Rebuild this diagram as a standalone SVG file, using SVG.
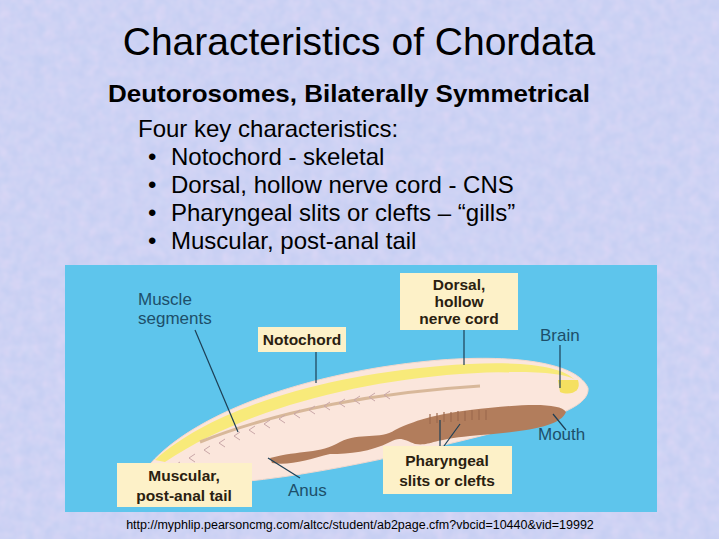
<svg xmlns="http://www.w3.org/2000/svg" width="719" height="539" viewBox="0 0 719 539">
<defs>
<filter id="mot" x="0" y="0" width="100%" height="100%"><feTurbulence type="fractalNoise" baseFrequency="0.09" numOctaves="2" seed="3"/><feColorMatrix type="matrix" values="0.3 0 0 0 0.7  0 0 0 0 0.76  0 0 0 0 0.95  0 0 0 0.5 0"/></filter>
<style>
.lbl{fill:#fdf1c8}
.bt{font-family:"Liberation Sans",Arial,sans-serif;font-weight:bold;font-size:15.5px;fill:#2a2010;text-anchor:middle}
.nt{font-family:"Liberation Sans",Arial,sans-serif;font-size:17px;fill:#1d4f6a}
.ln{stroke:#1d3f55;stroke-width:1.2;fill:none}
.body{font-family:"Liberation Sans",Arial,sans-serif;font-size:24px;fill:#000}
</style>
</defs>
<rect width="719" height="539" fill="#c3cdf2"/>
<rect width="719" height="539" fill="#fff" filter="url(#mot)"/>
<text x="359" y="55" font-family="Liberation Sans,Arial,sans-serif" font-size="39" text-anchor="middle">Characteristics of Chordata</text>
<text x="108" y="102" font-family="Liberation Sans,Arial,sans-serif" font-size="24" font-weight="bold" textLength="482" lengthAdjust="spacingAndGlyphs">Deutorosomes, Bilaterally Symmetrical</text>
<text x="138" y="137" class="body">Four key characteristics:</text>
<text class="body"><tspan x="148" y="165">•</tspan><tspan x="171">Notochord - skeletal</tspan><tspan x="148" y="193">•</tspan><tspan x="171">Dorsal, hollow nerve cord - CNS</tspan><tspan x="148" y="221">•</tspan><tspan x="171">Pharyngeal slits or clefts – “gills”</tspan><tspan x="148" y="249">•</tspan><tspan x="171">Muscular, post-anal tail</tspan></text>
<rect x="65" y="265" width="592" height="247" fill="#5ec5ec"/>
<g id="animal">
<path d="M150,464 C200,408 320,370 440,360 C520,354 578,364 588,388 C590,404 560,416 520,426 C420,452 300,480 210,484 C170,486 144,480 150,464 Z" fill="#fbe6dc" stroke="#f4d8cc"/>
<path d="M155,460 C210,410 320,376 440,366 C510,360 560,364 575,380 C565,372 520,370 460,374 C350,382 240,412 165,462 Z" fill="#f8ea7a"/>
<path d="M578,380 C582,392 570,396 560,392 L558,380 Z" fill="#f5e060"/>
<path d="M200,442 C280,410 380,392 480,386" stroke="#d8b89a" stroke-width="3" fill="none"/>
<path d="M270,458 C300,450 320,454 340,442 C360,432 380,440 395,430 C420,418 440,414 470,410 C520,404 560,402 566,412 C560,428 520,432 470,436 C430,440 430,446 415,444 C405,440 400,436 390,442 C370,452 350,454 330,454 C310,459 290,466 272,463 Z" fill="#b27d5c"/>
<g stroke="#c9a7a8" stroke-width="1" fill="none">
<path d="M180,462 l-6,4 6,4 M195,454 l-6,4 6,4 M210,446 l-6,4 6,4 M225,439 l-6,4 6,4 M240,432 l-6,4 6,4 M255,426 l-6,4 6,4 M270,420 l-6,4 6,4 M285,415 l-6,4 6,4 M300,410 l-6,4 6,4 M315,406 l-6,4 6,4 M330,402 l-6,4 6,4 M345,399 l-6,4 6,4 M360,396 l-6,4 6,4 M375,393 l-6,4 6,4 M390,391 l-6,4 6,4"/>
</g>
<g stroke="#9d6a4e" stroke-width="1.2" fill="none">
<path d="M430,414 v10 M437,413 v10 M444,412 v10 M451,412 v10 M458,411 v10 M465,411 v10 M472,410 v10 M479,410 v10 M486,410 v10"/>
</g>
</g>
<g id="connectors" class="ln">
<line x1="195" y1="330" x2="238" y2="432"/>
<line x1="316" y1="352" x2="316" y2="383"/>
<line x1="464" y1="330" x2="464" y2="365"/>
<line x1="560" y1="345" x2="560" y2="388"/>
<line x1="553" y1="414" x2="566" y2="430"/>
<line x1="268" y1="458" x2="300" y2="478"/>
<line x1="440" y1="420" x2="440" y2="446"/>
<line x1="460" y1="424" x2="444" y2="446"/>
<line x1="186" y1="478" x2="186" y2="463"/>
</g>
<g id="muscle"><text class="nt"><tspan x="138" y="305">Muscle</tspan><tspan x="138" y="324">segments</tspan></text></g>
<g id="notochord"><rect class="lbl" x="258" y="327" width="88" height="25"/><text class="bt" x="302" y="345">Notochord</text></g>
<g id="dorsal"><rect class="lbl" x="400" y="273" width="118" height="57"/><text class="bt"><tspan x="459" y="290">Dorsal,</tspan><tspan x="459" y="307">hollow</tspan><tspan x="459" y="324">nerve cord</tspan></text></g>
<g id="brain"><text class="nt" x="540" y="341">Brain</text></g>
<g id="mouth"><text class="nt" x="538" y="440">Mouth</text></g>
<g id="anus"><text class="nt" x="288" y="496">Anus</text></g>
<g id="pharyngeal"><rect class="lbl" x="383" y="446" width="129" height="48"/><text class="bt"><tspan x="447" y="466">Pharyngeal</tspan><tspan x="447" y="486">slits or clefts</tspan></text></g>
<g id="tail"><rect class="lbl" x="117" y="463" width="135" height="44"/><text class="bt"><tspan x="184" y="481">Muscular,</tspan><tspan x="184" y="501">post-anal tail</tspan></text></g>
<text x="360" y="529" font-family="Liberation Sans,Arial,sans-serif" font-size="12.5" text-anchor="middle">http://myphlip.pearsoncmg.com/altcc/student/ab2page.cfm?vbcid=10440&amp;vid=19992</text>
</svg>
